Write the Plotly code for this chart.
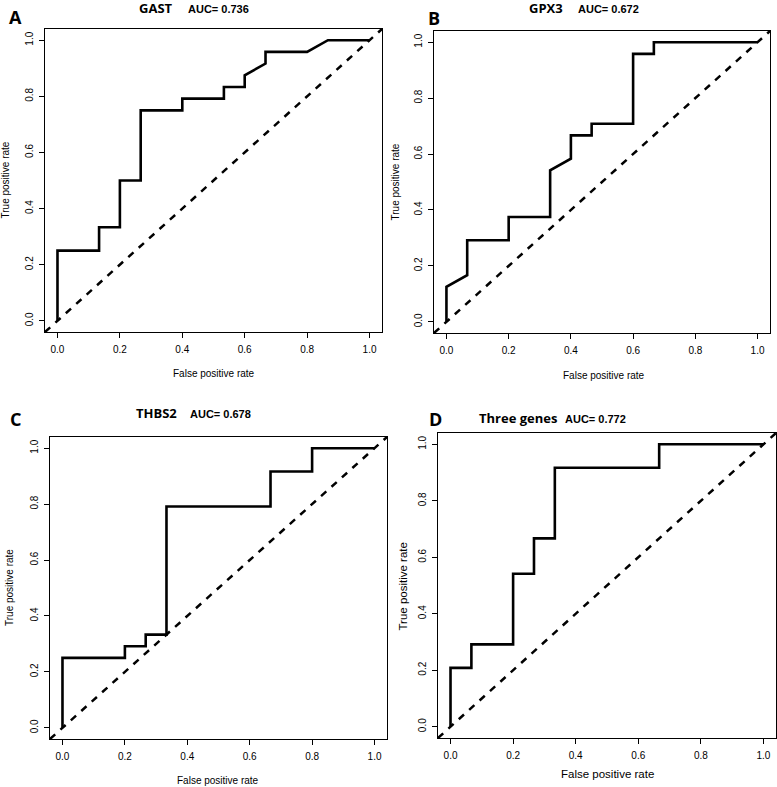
import plotly.graph_objects as go

W, H = 777, 787

# ---- data ----
gast_fpr = [0, 0, 0.1333, 0.1333, 0.2, 0.2, 0.2667, 0.2667, 0.4, 0.4, 0.5333, 0.5333, 0.6, 0.6, 0.6667, 0.6667, 0.8, 0.8667, 1.0]
gast_tpr = [0, 0.25, 0.25, 0.3333, 0.3333, 0.5, 0.5, 0.75, 0.75, 0.7917, 0.7917, 0.8333, 0.8333, 0.875, 0.9167, 0.9583, 0.9583, 1.0, 1.0]

gpx3_fpr = [0, 0, 0.0667, 0.0667, 0.2, 0.2, 0.3333, 0.3333, 0.4, 0.4, 0.4667, 0.4667, 0.6, 0.6, 0.6667, 0.6667, 1.0]
gpx3_tpr = [0, 0.125, 0.1667, 0.2917, 0.2917, 0.375, 0.375, 0.5417, 0.5833, 0.6667, 0.6667, 0.7083, 0.7083, 0.9583, 0.9583, 1.0, 1.0]

thbs2_fpr = [0, 0, 0.2, 0.2, 0.2667, 0.2667, 0.3333, 0.3333, 0.6667, 0.6667, 0.8, 0.8, 1.0]
thbs2_tpr = [0, 0.25, 0.25, 0.2917, 0.2917, 0.3333, 0.3333, 0.7917, 0.7917, 0.9167, 0.9167, 1.0, 1.0]

three_fpr = [0, 0, 0.0667, 0.0667, 0.2, 0.2, 0.2667, 0.2667, 0.3333, 0.3333, 0.6667, 0.6667, 1.0]
three_tpr = [0, 0.2083, 0.2083, 0.2917, 0.2917, 0.5417, 0.5417, 0.6667, 0.6667, 0.9167, 0.9167, 1.0, 1.0]

gene_names = ["GAST", "GPX3", "THBS2", "Three genes"]
auc_labels = ["AUC= 0.736", "AUC= 0.672", "AUC= 0.678", "AUC= 0.772"]
panel_letters = ["A", "B", "C", "D"]
tick_vals = [0, 0.2, 0.4, 0.6, 0.8, 1.0]
x_title = "False positive rate"
y_title = "True positive rate"

curves = [(gast_fpr, gast_tpr), (gpx3_fpr, gpx3_tpr), (thbs2_fpr, thbs2_tpr), (three_fpr, three_tpr)]

# ---- layout (pixels) ----
frames = [  # left, right, top, bottom
    (45, 382, 29, 332),
    (434, 770, 31, 333),
    (50, 387, 437, 739),
    (438, 776, 433, 738),
]
title_pos = [  # gene center x, auc left x, y center
    (156, 186, 8),
    (546, 576, 8),
    (156, 188, 413),
    (518, 563, 418),
]
letter_pos = [(15, 17), (434, 18), (15, 419), (435, 419)]
xtitle_pos = [(214, 373), (604, 375), (218, 780), (607, 774)]
ytitle_pos = [(5.5, 180), (394.5, 182), (9, 588), (402.5, 587)]
axis_title_size = [10, 10, 10, 11.5]

def px(x):
    return x / W

def py(y):
    return 1 - y / H

fig = go.Figure()
annotations = []
for i, ((fpr, tpr), (l, r, t, b)) in enumerate(zip(curves, frames)):
    n = "" if i == 0 else str(i + 1)
    xa, ya = "x" + n, "y" + n
    fig.add_trace(go.Scatter(x=[-0.04, 1.04], y=[-0.04, 1.04], mode="lines",
                             line=dict(color="black", width=2.5, dash="7px,7px"),
                             xaxis=xa, yaxis=ya, showlegend=False, hoverinfo="skip"))
    fig.add_trace(go.Scatter(x=fpr, y=tpr, mode="lines",
                             line=dict(color="black", width=2.6),
                             xaxis=xa, yaxis=ya, showlegend=False))
    common = dict(range=[-0.04, 1.04], tickvals=tick_vals, tickformat=".1f",
                  showline=True, mirror=True, linecolor="black", linewidth=1.3,
                  ticks="outside", ticklen=5, tickwidth=1, tickcolor="black",
                  showgrid=False, zeroline=False,
                  tickfont=dict(family="Liberation Sans, Arial", size=10, color="black"))
    fig.layout["xaxis" + n] = dict(domain=[px(l), px(r)], anchor=ya, ticklabelstandoff=3, **common)
    fig.layout["yaxis" + n] = dict(domain=[py(b), py(t)], anchor=xa, tickangle=-90, ticklabelstandoff=2, **common)

    gx, ax, ty = title_pos[i]
    annotations.append(dict(text="<b>%s</b>" % gene_names[i], x=px(gx), y=py(ty), xref="paper", yref="paper",
                            xanchor="center", yanchor="middle", showarrow=False,
                            font=dict(family="Open Sans", size=13, color="black")))
    annotations.append(dict(text="<b>%s</b>" % auc_labels[i], x=px(ax), y=py(ty + 1), xref="paper", yref="paper",
                            xanchor="left", yanchor="middle", showarrow=False,
                            font=dict(family="Liberation Sans, Arial", size=11, color="black")))
    lx, ly = letter_pos[i]
    annotations.append(dict(text="<b>%s</b>" % panel_letters[i], x=px(lx), y=py(ly), xref="paper", yref="paper",
                            xanchor="center", yanchor="middle", showarrow=False,
                            font=dict(family="Open Sans", size=18, color="black")))
    xx, xy = xtitle_pos[i]
    annotations.append(dict(text=x_title, x=px(xx), y=py(xy), xref="paper", yref="paper",
                            xanchor="center", yanchor="middle", showarrow=False,
                            font=dict(family="Liberation Sans, Arial", size=axis_title_size[i], color="black")))
    yx, yy = ytitle_pos[i]
    annotations.append(dict(text=y_title, x=px(yx), y=py(yy), xref="paper", yref="paper",
                            xanchor="center", yanchor="middle", showarrow=False, textangle=-90,
                            font=dict(family="Liberation Sans, Arial", size=axis_title_size[i], color="black")))

fig.update_layout(width=W, height=H, margin=dict(l=0, r=0, t=0, b=0),
                  paper_bgcolor="white", plot_bgcolor="white", annotations=annotations)
fig.write_html("out.html", config={"displayModeBar": False},
               post_script="document.body.style.margin='0';document.body.style.padding='0';document.body.style.overflow='hidden';")
